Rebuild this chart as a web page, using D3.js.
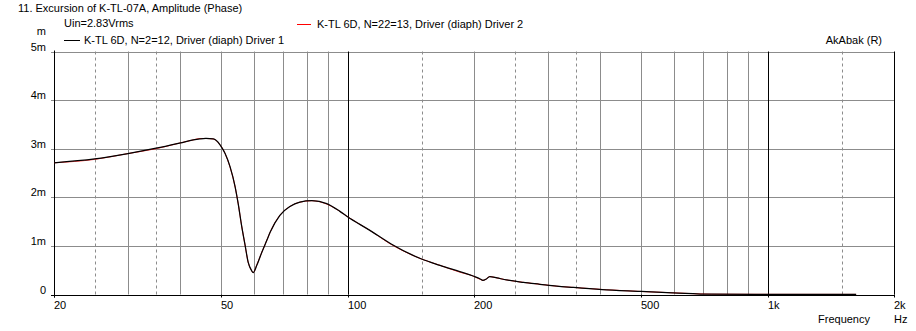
<!DOCTYPE html>
<html><head><meta charset="utf-8">
<script src="https://cdn.jsdelivr.net/npm/d3@7"></script>
<style>
html,body{margin:0;padding:0;background:#fff;}
text{font-family:"Liberation Sans",Arial,sans-serif;font-size:11px;fill:#000;}
</style></head>
<body>
<svg id="c" width="916" height="331"></svg>
<script>
// ---- data ----
const freqs1 = [20,25,30,35,40,42.9,44.5,46,47.9,49.7,51.1,52.5,54.0,54.9,56.0,57.0,58.0,59.1,59.6,60.8,62.5,64.2,65.4,69,72.9,77,82.2,89.2,95.9,100,113,127,150,166,185,199,207,210,214,218,227,239,262,287,315,345,414,500,596,736,1000,1625];
const driver1 = [2.71,2.79,2.90,3.01,3.12,3.18,3.20,3.21,3.20,3.08,2.90,2.63,2.21,1.87,1.39,1.02,0.66,0.49,0.45,0.60,0.87,1.11,1.28,1.63,1.81,1.90,1.93,1.87,1.71,1.60,1.32,1.04,0.73,0.60,0.47,0.38,0.32,0.29,0.32,0.37,0.34,0.30,0.25,0.21,0.17,0.145,0.097,0.062,0.035,0.006,0.003,0.002];
const freqs2 = [20,25,30,35,40,42.9,44.5,46,47.9,49.7,51.1,52.5,54.0,54.9,56.0,57.0,58.0,59.1,59.6,60.8,62.5,64.2,65.4,69,72.9,77,82.2,89.2,95.9,100,113,127,150,166,185,199,207,210,214,218,227,239,262,287,315,345,414,500,596,736,1000,1625];
const driver2 = [2.71,2.78,2.90,3.00,3.12,3.18,3.21,3.21,3.20,3.08,2.90,2.62,2.21,1.87,1.39,1.02,0.66,0.49,0.45,0.61,0.87,1.11,1.28,1.63,1.81,1.90,1.93,1.86,1.71,1.60,1.32,1.03,0.73,0.60,0.46,0.38,0.31,0.29,0.32,0.37,0.34,0.30,0.25,0.21,0.17,0.145,0.097,0.062,0.035,0.006,0.003,0.002];
const yTicks = [0,1,2,3,4,5];
const yTickLabels = ["0","1m","2m","3m","4m","5m"];
const xTicks = [20,50,100,200,500,1000,2000];
const xTickLabels = ["20","50","100","200","500","1k","2k"];
const gridSolid = [30,40,50,60,70,80,90,200,300,400,500,600,700,800,900];
const gridDashed = [25,35,150,250,350,1500];
const gridMajor = [100,1000];
const title = "11. Excursion of K-TL-07A, Amplitude (Phase)";
const subtitle = "Uin=2.83Vrms";
const legend1 = "K-TL 6D, N=2=12, Driver (diaph) Driver 1";
const legend2 = "K-TL 6D, N=22=13, Driver (diaph) Driver 2";

// ---- chart ----
const svg = d3.select("#c");
const x = d3.scaleLog().domain([20,2000]).range([54,894]);
const y = d3.scaleLinear().domain([0,5]).range([294.5,51.5]);
const grid = "#8c8c8c";

const g = svg.append("g");
g.selectAll(".hg").data(yTicks.filter(d=>d>0)).enter().append("line")
  .attr("x1",x(20)).attr("x2",x(2000))
  .attr("y1",d=>Math.round(y(d))+0.5).attr("y2",d=>Math.round(y(d))+0.5)
  .attr("stroke",grid);
g.selectAll(".vs").data(gridSolid).enter().append("line")
  .attr("x1",d=>Math.round(x(d))+0.5).attr("x2",d=>Math.round(x(d))+0.5)
  .attr("y1",y(5)).attr("y2",y(0)).attr("stroke",grid);
g.selectAll(".vd").data(gridDashed).enter().append("line")
  .attr("x1",d=>Math.round(x(d))+0.5).attr("x2",d=>Math.round(x(d))+0.5)
  .attr("y1",y(5)).attr("y2",y(0)).attr("stroke",grid).attr("stroke-dasharray","3,3");
g.selectAll(".vm").data(gridMajor.concat([2000])).enter().append("line")
  .attr("x1",d=>Math.round(x(d))+0.5).attr("x2",d=>Math.round(x(d))+0.5)
  .attr("y1",y(5)).attr("y2",y(0)).attr("stroke","#000");

g.selectAll(".yt").data(yTicks).enter().append("line")
  .attr("x1",x(20)-3).attr("x2",x(20)+3)
  .attr("y1",d=>Math.round(y(d))+0.5).attr("y2",d=>Math.round(y(d))+0.5)
  .attr("stroke",d=>d===0?"#000":grid);
g.selectAll(".yl").data(yTicks).enter().append("text")
  .attr("x",46).attr("y",d=>Math.round(y(d))-1)
  .attr("text-anchor","end").text((d,i)=>yTickLabels[i]);
g.append("text").attr("x",46).attr("y",35).attr("text-anchor","end").text("m");

g.selectAll(".xt").data(xTicks).enter().append("line")
  .attr("x1",d=>Math.round(x(d))+0.5).attr("x2",d=>Math.round(x(d))+0.5)
  .attr("y1",y(0)).attr("y2",y(0)+3).attr("stroke","#000");
g.selectAll(".xl").data(xTicks).enter().append("text")
  .attr("x",d=>Math.round(x(d))).attr("y",309)
  .text((d,i)=>xTickLabels[i]);

g.append("line").attr("x1",Math.round(x(20))+0.5).attr("x2",Math.round(x(20))+0.5)
  .attr("y1",y(5)-1).attr("y2",y(0)+3).attr("stroke","#000");
g.append("line").attr("x1",x(20)-3).attr("x2",x(2000)+1)
  .attr("y1",Math.round(y(0))+0.5).attr("y2",Math.round(y(0))+0.5).attr("stroke","#000");

const line = d3.line().x(d=>x(d[0])).y(d=>y(d[1])).curve(d3.curveMonotoneX);
svg.append("path").datum(freqs2.map((f,i)=>[f,driver2[i]]))
  .attr("d",line).attr("fill","none").attr("stroke","#ff0000").attr("stroke-width",0.8);
svg.append("path").datum(freqs1.map((f,i)=>[f,driver1[i]]))
  .attr("d",line).attr("fill","none").attr("stroke","#000").attr("stroke-width",1.25);

svg.append("text").attr("x",18).attr("y",12).text(title);
svg.append("text").attr("x",64).attr("y",27).text(subtitle);
svg.append("line").attr("x1",64).attr("x2",80).attr("y1",40.5).attr("y2",40.5).attr("stroke","#000");
svg.append("text").attr("x",84).attr("y",44).text(legend1);
svg.append("line").attr("x1",297).attr("x2",311).attr("y1",24.5).attr("y2",24.5).attr("stroke","#ff0000");
svg.append("text").attr("x",317).attr("y",28).text(legend2);
svg.append("text").attr("x",882).attr("y",44).attr("text-anchor","end").text("AkAbak (R)");
svg.append("text").attr("x",870).attr("y",323).attr("text-anchor","end").text("Frequency");
svg.append("text").attr("x",894).attr("y",323).text("Hz");
</script>
</body></html>
